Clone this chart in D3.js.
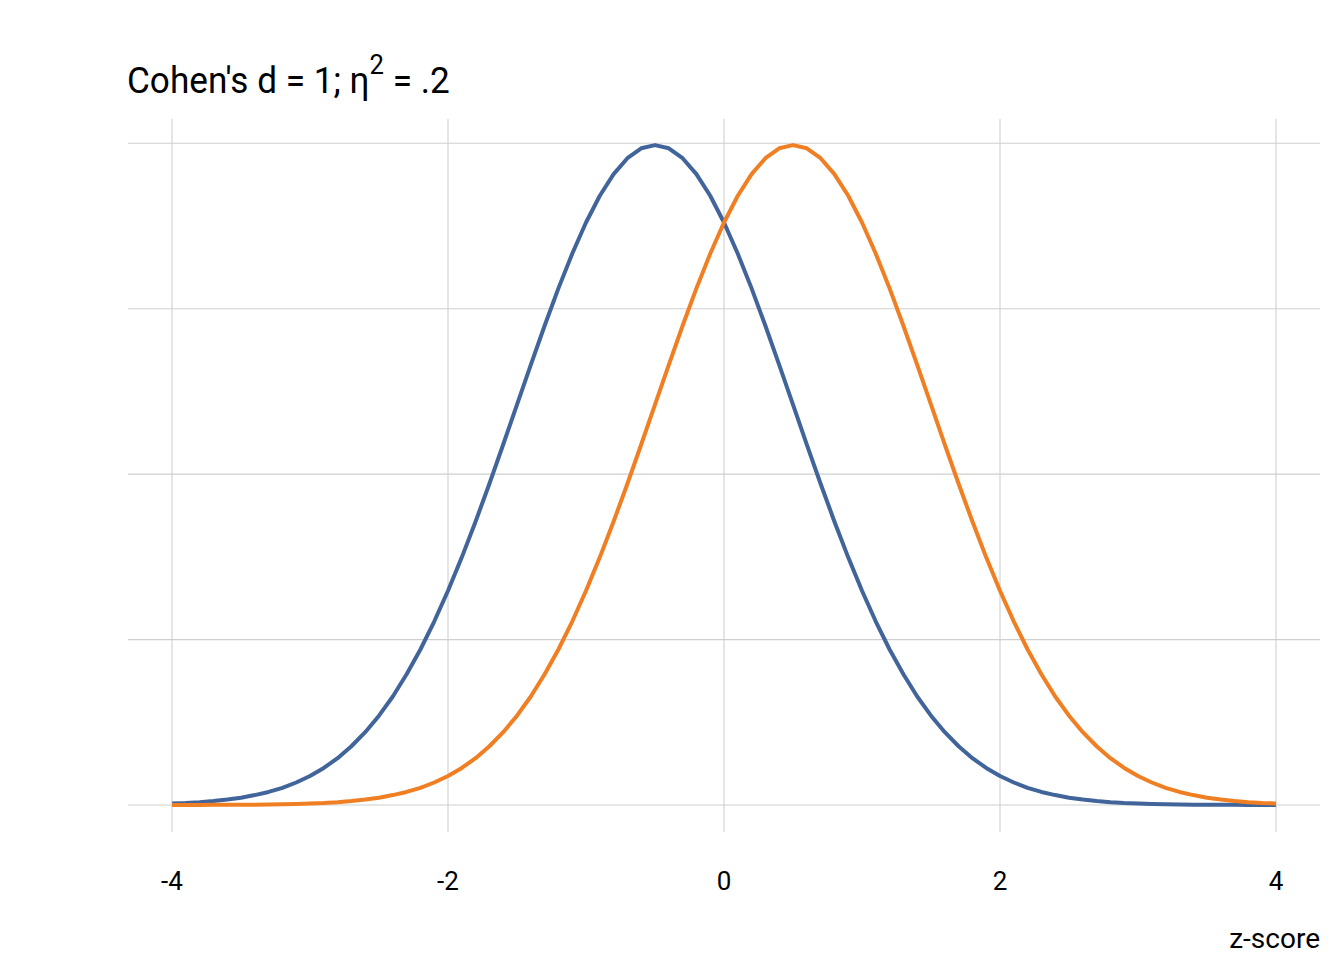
<!DOCTYPE html>
<html><head><meta charset="utf-8">
<script src="https://cdn.jsdelivr.net/npm/d3@7"></script>
<style>body{margin:0;background:#fff}svg{display:block}text{font-family:Roboto,"Noto Sans",sans-serif;fill:#000}</style>
</head><body><svg id="c" width="1344" height="960"></svg>
<script>
const xValues = d3.range(81).map(i => +(-4 + i * 0.1).toFixed(1));
const xTicks = [-4, -2, 0, 2, 4];
const xTickLabels = ["-4", "-2", "0", "2", "4"];
const yGrid = [0, 0.1, 0.2, 0.3, 0.4];
const groupA = [0.0009,0.0012,0.0017,0.0024,0.0033,0.0044,0.0060,0.0079,0.0104,0.0136,0.0175,0.0224,0.0283,0.0355,0.0440,0.0540,0.0656,0.0790,0.0940,0.1109,0.1295,0.1497,0.1714,0.1942,0.2179,0.2420,0.2661,0.2897,0.3123,0.3332,0.3521,0.3683,0.3814,0.3910,0.3970,0.3989,0.3970,0.3910,0.3814,0.3683,0.3521,0.3332,0.3123,0.2897,0.2661,0.2420,0.2179,0.1942,0.1714,0.1497,0.1295,0.1109,0.0940,0.0790,0.0656,0.0540,0.0440,0.0355,0.0283,0.0224,0.0175,0.0136,0.0104,0.0079,0.0060,0.0044,0.0033,0.0024,0.0017,0.0012,0.0009,0.0006,0.0004,0.0003,0.0002,0.0001,0.0001,0.0001,0.0000,0.0000,0.0000];
const groupB = [0.0000,0.0000,0.0000,0.0001,0.0001,0.0001,0.0002,0.0003,0.0004,0.0006,0.0009,0.0012,0.0017,0.0024,0.0033,0.0044,0.0060,0.0079,0.0104,0.0136,0.0175,0.0224,0.0283,0.0355,0.0440,0.0540,0.0656,0.0790,0.0940,0.1109,0.1295,0.1497,0.1714,0.1942,0.2179,0.2420,0.2661,0.2897,0.3123,0.3332,0.3521,0.3683,0.3814,0.3910,0.3970,0.3989,0.3970,0.3910,0.3814,0.3683,0.3521,0.3332,0.3123,0.2897,0.2661,0.2420,0.2179,0.1942,0.1714,0.1497,0.1295,0.1109,0.0940,0.0790,0.0656,0.0540,0.0440,0.0355,0.0283,0.0224,0.0175,0.0136,0.0104,0.0079,0.0060,0.0044,0.0033,0.0024,0.0017,0.0012,0.0009];
const colors = ["#41649a", "#f07f23"];

const svg = d3.select("#c");
const x = d3.scaleLinear().domain([-4, 4]).range([172, 1276]);
const y = d3.scaleLinear().domain([0, 0.4]).range([805, 143.3]);
const panel = {left: 128, right: 1320, top: 119, bottom: 832};

const g = svg.append("g");
g.selectAll(".hg").data(yGrid).enter().append("line")
  .attr("x1", panel.left).attr("x2", panel.right)
  .attr("y1", d => y(d)).attr("y2", d => y(d))
  .attr("stroke", "#cfcfcf").attr("stroke-width", 1.1);
g.selectAll(".vg").data(xTicks).enter().append("line")
  .attr("x1", d => x(d)).attr("x2", d => x(d))
  .attr("y1", panel.top).attr("y2", panel.bottom)
  .attr("stroke", "#cfcfcf").attr("stroke-width", 1.1);

const line = d3.line().x((d, i) => x(xValues[i])).y(d => y(d));
[groupA, groupB].forEach((s, k) => {
  g.append("path").attr("d", line(s)).attr("fill", "none")
    .attr("stroke", colors[k]).attr("stroke-width", 4).attr("stroke-linejoin", "round");
});

function ctext(px, py, size, anchor, sx) {
  return svg.append("g").attr("transform", `translate(${px},${py}) scale(${sx || 1},1)`)
    .append("text").attr("font-size", size).attr("text-anchor", anchor || "start");
}
xTicks.forEach((d, i) => {
  ctext(x(d), 890, 26, "middle").text(xTickLabels[i]);
});
ctext(1320, 948, 28, "end").text("z-score");
const title = ctext(127, 93, 37, "start", 0.95);
title.append("tspan").text("Cohen's d = 1; \u03b7");
title.append("tspan").attr("font-size", 27).attr("dy", -19).text("2");
title.append("tspan").attr("dy", 19).text(" = .2");
</script></body></html>
